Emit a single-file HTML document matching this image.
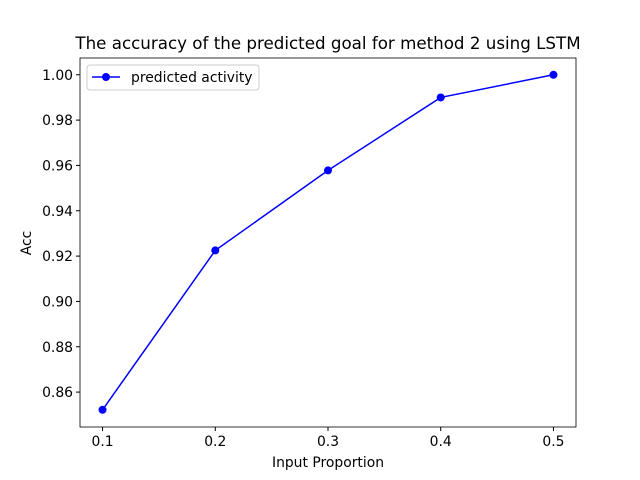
<!DOCTYPE html>
<html><head><meta charset="utf-8"><style>body{margin:0;background:#fff}svg{display:block;font-family:"DejaVu Sans",sans-serif}</style></head>
<body>
<svg id="chart" width="640" height="480" xmlns="http://www.w3.org/2000/svg">
<rect width="640" height="480" fill="#fff"/>
<text x="328" y="49" font-size="16.7" text-anchor="middle">The accuracy of the predicted goal for method 2 using LSTM</text>
<g id="axes"></g>
<text x="328" y="467" font-size="13.9" text-anchor="middle">Input Proportion</text>
<text x="31" y="243" font-size="13.9" text-anchor="middle" transform="rotate(-90 31 243)">Acc</text>
<g>
<rect x="87" y="65" width="172" height="25" rx="3" fill="#fff" stroke="#ccc"/>
<line x1="92" y1="77" x2="120" y2="77" stroke="#0000ff" stroke-width="1.5"/>
<circle cx="106" cy="77" r="4" fill="#0000ff"/>
<text x="131" y="82" font-size="13.9">predicted activity</text>
</g>
</svg>
<script>
const categories=[0.1,0.2,0.3,0.4,0.5];
const accValues=[0.8522,0.9225,0.9578,0.9900,1.0000];
const xTicks=[0.1,0.2,0.3,0.4,0.5];
const yTicks=[0.86,0.88,0.90,0.92,0.94,0.96,0.98,1.00];
const L=80,R=576,T=58,B=427;
const xMin=0.08,xMax=0.52,yMin=0.8446,yMax=1.0074;
const xs=v=>L+(v-xMin)/(xMax-xMin)*(R-L);
const ys=v=>B-(v-yMin)/(yMax-yMin)*(B-T);
const NS="http://www.w3.org/2000/svg";
const g=document.getElementById('axes');
function mk(t,a){const e=document.createElementNS(NS,t);for(const k in a)e.setAttribute(k,a[k]);g.appendChild(e);return e;}
xTicks.forEach(v=>{const x=xs(v);
const t=mk('line',{x1:x,y1:B,x2:x,y2:B+4,stroke:'#000'});


const l=mk('text',{x:x,y:B+19,'font-size':13.9,'text-anchor':'middle'});l.textContent=v.toFixed(1);

});
yTicks.forEach(v=>{const y=ys(v);
const t=mk('line',{x1:L-4,y1:y,x2:L,y2:y,stroke:'#000'});


const l=mk('text',{x:L-7,y:y+5,'font-size':13.9,'text-anchor':'end'});l.textContent=v.toFixed(2);

});
const pts=categories.map((c,i)=>xs(c)+','+ys(accValues[i])).join(' ');
const line=mk('polyline',{points:pts,fill:'none',stroke:'#0000ff','stroke-width':1.5});


categories.forEach((c,i)=>{const p=mk('circle',{cx:xs(c),cy:ys(accValues[i]),r:4,fill:'#0000ff'});

});
const fr=mk('rect',{x:L,y:T,width:R-L,height:B-T,fill:'none',stroke:'#000','stroke-width':0.8});


</script>
</body></html>
